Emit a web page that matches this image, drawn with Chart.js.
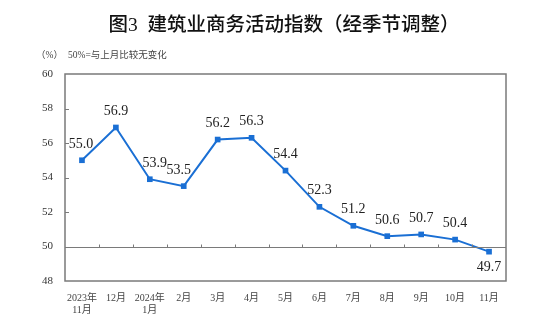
<!DOCTYPE html>
<html><head><meta charset="utf-8">
<script src="https://cdn.jsdelivr.net/npm/chart.js@4"></script>
<style>html,body{margin:0;padding:0;background:#fff;}canvas{display:block;}</style>
</head><body>
<canvas id="c" width="554" height="329"></canvas>
<script>
const categories = [["2023年","11月"],"12月",["2024年","1月"],"2月","3月","4月","5月","6月","7月","8月","9月","10月","11月"];
const values = [55.0,56.9,53.9,53.5,56.2,56.3,54.4,52.3,51.2,50.6,50.7,50.4,49.7];
const yTicks = [48,50,52,54,56,58,60];
const titleText = "图3  建筑业商务活动指数（经季节调整）";
const unitText = "（%）";
const noteText = "50%=与上月比较无变化";

const SERIF_CJK = '"Liberation Serif","Noto Sans CJK SC",serif';
const BLUE = '#1a6fd4';
const AXIS = '#7a7a7a';

const decor = {
  id:'decor',
  afterDraw(chart){
    const {ctx, chartArea:a, scales} = chart;
    const x = scales.x, y = scales.y;
    ctx.save();
    ctx.strokeStyle = AXIS; ctx.lineWidth = 1.5;
    ctx.strokeRect(a.left, a.top, a.right-a.left, a.bottom-a.top);
    ctx.lineWidth = 1;
    yTicks.forEach(v=>{
      if(v===yTicks[0]||v===yTicks[yTicks.length-1]) return;
      const py = Math.round(y.getPixelForValue(v))+0.5;
      ctx.beginPath(); ctx.moveTo(a.left, py); ctx.lineTo(a.left+4, py); ctx.stroke();
    });
    const by = Math.round(y.getPixelForValue(50))+0.5;
    ctx.lineWidth = 1.2;
    ctx.beginPath(); ctx.moveTo(a.left, by); ctx.lineTo(a.right, by); ctx.stroke();
    ctx.lineWidth = 1;
    for(let i=1;i<categories.length;i++){
      const px = Math.round((x.getPixelForValue(i-1)+x.getPixelForValue(i))/2)+0.5;
      ctx.beginPath(); ctx.moveTo(px, by); ctx.lineTo(px, by-3); ctx.stroke();
    }
    ctx.fillStyle = '#111';
    ctx.font = '500 19.5px ' + SERIF_CJK;
    ctx.textAlign = 'center'; ctx.textBaseline = 'middle';
    ctx.fillText(titleText, 284, 26);
    ctx.fillStyle = '#444';
    ctx.font = '9.5px ' + SERIF_CJK;
    ctx.textAlign = 'left';
    ctx.fillText(unitText, 36, 55);
    ctx.fillText(noteText, 68, 55);
    const meta = chart.getDatasetMeta(0);
    ctx.fillStyle = '#222';
    ctx.font = '14px "Liberation Serif",serif';
    ctx.textAlign = 'center';
    const dx = {0:-1, 2:5, 3:-5};
    meta.data.forEach((pt,i)=>{
      const below = values[i] < 50;
      ctx.fillText(values[i].toFixed(1), pt.x + (dx[i]||0), pt.y + (below?16:-16));
    });
    ctx.restore();
  }
};

new Chart(document.getElementById('c'), {
  type:'line',
  data:{labels:categories, datasets:[{data:values, borderColor:BLUE, backgroundColor:BLUE, borderWidth:2,
    pointStyle:'rect', pointRadius:4, pointBackgroundColor:BLUE, pointBorderWidth:0, tension:0}]},
  options:{
    responsive:false, animation:false, devicePixelRatio:1,
    layout:{padding:{top:74,right:48,left:0,bottom:0}},
    plugins:{legend:{display:false}, tooltip:{enabled:false}},
    scales:{
      x:{offset:true, grid:{display:false, drawTicks:false}, border:{display:false},
        ticks:{color:'#444', font:{family:SERIF_CJK, size:10}, padding:11, maxRotation:0, autoSkip:false},
        afterFit(s){ s.height = 48; }},
      y:{min:48, max:60, grid:{display:false, drawTicks:false}, border:{display:false},
        afterBuildTicks(s){ s.ticks = yTicks.map(v=>({value:v})); },
        ticks:{color:'#333', font:{family:'"Liberation Serif",serif', size:11}, padding:12},
        afterFit(s){ s.width = 65; }}
    }
  },
  plugins:[decor]
});
</script>
</body></html>
